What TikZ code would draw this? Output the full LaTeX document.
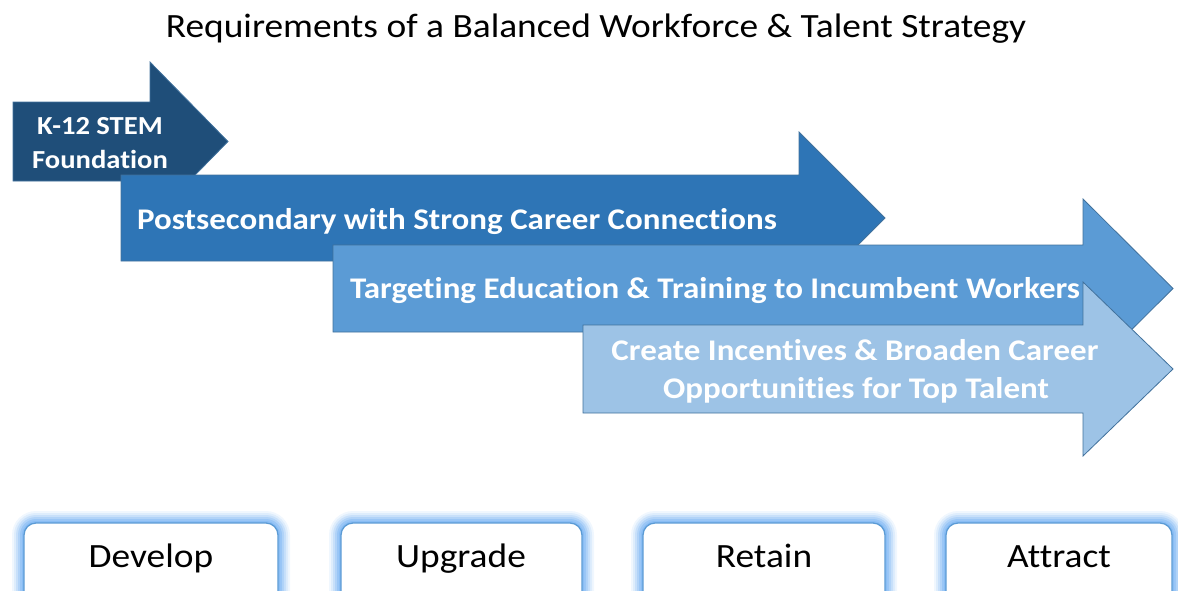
\documentclass[tikz,border=0pt]{standalone}
\usepackage{fontspec}
\setmainfont{Carlito}[Ligatures=NoCommon]
\definecolor{aone}{HTML}{1F4E79}
\definecolor{atwo}{HTML}{2E75B6}
\definecolor{athree}{HTML}{5B9BD5}
\definecolor{afour}{HTML}{9DC3E6}
\definecolor{aedge}{HTML}{41719C}
\definecolor{boxedge}{HTML}{5B9BD5}
\definecolor{glowc}{HTML}{6FAEF2}
\tikzset{
  arrowbody/.style={draw=aedge, line width=0.8pt},
  arrowtext/.style={text=white, font=\bfseries\fontsize{30}{36}\selectfont, inner sep=0pt, anchor=base, xscale=1.1},
  labelbox/.style={draw=boxedge, line width=1.3pt, fill=white, rounded corners=12pt},
  labeltext/.style={font=\fontsize{34}{40}\selectfont, inner sep=0pt, anchor=base, xscale=1.1},
}
% #1 left x, #2 head base x, #3 body top, #4 body bottom, #5 head top, #6 tip x, #7 colour
\newcommand{\bigarrow}[7]{%
  \pgfmathsetmacro{\hb}{#3+#4-#5}%
  \pgfmathsetmacro{\mid}{(#3+#4)/2}%
  \fill[#7, arrowbody] (#1,#3) -- (#2,#3) -- (#2,#5) -- (#6,\mid) -- (#2,\hb) -- (#2,#4) -- (#1,#4) -- cycle;%
}
\newcommand{\glowbox}[4]{%
  \foreach \k/\op in {12/0.10,10/0.14,8/0.2,6/0.26,4/0.34,2/0.4}{%
    \fill[glowc, opacity=\op, rounded corners={12pt+\k pt}] (#1-\k,#2-\k) rectangle (#3+\k,#4+\k);%
  }%
}
\begin{document}
\begin{tikzpicture}[x=1pt,y=-1pt]
\useasboundingbox (0,0) rectangle (1178,590);
\clip (0,0) rectangle (1178,590);
\node[font=\fontsize{34}{40}\selectfont, inner sep=0pt, anchor=base, xscale=1.1] (title) at (596,37) {Requirements of a Balanced Workforce \& Talent Strategy};
\bigarrow{13}{150}{102}{181}{62}{228}{aone}
\node[arrowtext, font=\bfseries\fontsize{26}{30}\selectfont] (k12a) at (100,134) {K-12 STEM};
\node[arrowtext, font=\bfseries\fontsize{26}{30}\selectfont] (k12b) at (100,168) {Foundation};
\bigarrow{121}{799}{175}{261}{132}{885}{atwo}
\node[arrowtext] (post) at (457,229) {Postsecondary with Strong Career Connections};
\bigarrow{333}{1083}{245}{332}{199}{1173}{athree}
\node[arrowtext] (target) at (715,298) {Targeting Education \& Training to Incumbent Workers};
\bigarrow{583}{1083}{325}{413}{282}{1173}{afour}
\node[arrowtext] (createa) at (855,360) {Create Incentives \& Broaden Career};
\node[arrowtext] (createb) at (856,398) {Opportunities for Top Talent};
\glowbox{24}{523}{278}{605}
\glowbox{341}{523}{582}{605}
\glowbox{643}{523}{885}{605}
\glowbox{946}{523}{1172}{605}
\draw[labelbox] (24,523) rectangle (278,605);
\draw[labelbox] (341,523) rectangle (582,605);
\draw[labelbox] (643,523) rectangle (885,605);
\draw[labelbox] (946,523) rectangle (1172,605);
\node[labeltext] (develop) at (151,567) {Develop};
\node[labeltext] (upgrade) at (461,567) {Upgrade};
\node[labeltext] (retain) at (764,567) {Retain};
\node[labeltext] (attract) at (1059,567) {Attract};
\end{tikzpicture}
\end{document}
